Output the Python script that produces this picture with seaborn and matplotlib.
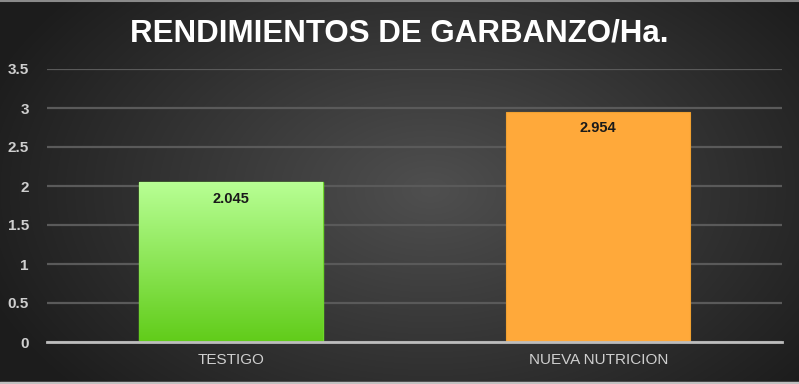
import numpy as np
import pandas as pd
import matplotlib
matplotlib.use('Agg')
import matplotlib.pyplot as plt
import seaborn as sns

categorias = ['TESTIGO', 'NUEVA NUTRICION']
rendimientos = [2.045, 2.954]
y_ticks = [0, 0.5, 1, 1.5, 2, 2.5, 3, 3.5]
y_tick_labels = ['0', '0.5', '1', '1.5', '2', '2.5', '3', '3.5']
titulo = 'RENDIMIENTOS DE GARBANZO/Ha.'

sns.set_style('white')
plt.rcParams['font.family'] = ['Liberation Sans', 'DejaVu Sans']

df = pd.DataFrame({'categoria': categorias, 'valor': rendimientos})

fig = plt.figure(figsize=(7.99, 3.84), dpi=100)

# fondo con degradado radial
bg = fig.add_axes([0, 0, 1, 1], zorder=-1)
yy, xx = np.mgrid[0:384, 0:799]
r = np.sqrt(((xx - 430) / 500.0) ** 2 + ((yy - 190) / 320.0) ** 2)
shade = np.clip(0.31 - 0.21 * r, 0.11, 0.31)
bg.imshow(np.dstack([shade, shade, shade]), aspect='auto', extent=[0, 1, 0, 1])
bg.axhline(0.003, color='#c0c0c0', linewidth=2.5)
bg.axhline(0.998, color='#8a8a8a', linewidth=1.5)
bg.set_xlim(0, 1)
bg.set_ylim(0, 1)
bg.set_axis_off()

ax = fig.add_axes([47 / 799, 1 - 342 / 384, 735 / 799, (342 - 69) / 384])
ax.set_facecolor('none')

sns.barplot(data=df, x='categoria', y='valor', ax=ax, width=0.5,
            palette=['#8ee85a', '#ffa93a'], hue='categoria', legend=False,
            saturation=1, zorder=3)

# degradado verde en la primera barra
p = ax.patches[0]
x0, w, h = p.get_x(), p.get_width(), p.get_height()
grad = np.linspace(0, 1, 256)[:, None]
top = np.array([0.72, 1.0, 0.58])
bot = np.array([0.38, 0.80, 0.10])
img = top[None, None, :] * (1 - grad[..., None]) + bot[None, None, :] * grad[..., None]
img = np.repeat(img, 2, axis=1)
im = ax.imshow(img, extent=[x0, x0 + w, 0, h], aspect='auto', zorder=3.5)
im.set_clip_path(p)
p.set_edgecolor('#6ed82a')
p.set_linewidth(1)
ax.patches[1].set_edgecolor('#f0a030')
ax.patches[1].set_linewidth(0.8)

for i, v in enumerate(rendimientos):
    ax.text(i, v - 0.12, f'{v:.3f}', ha='center', va='top', fontsize=10.5,
            fontweight='bold', color='#1a1a1a', zorder=5)

ax.set_xlim(-0.5, 1.5)
ax.set_ylim(0, 3.5)
ax.set_yticks(y_ticks)
ax.set_yticklabels(y_tick_labels)
ax.yaxis.grid(True, color='#5a5a5a', linewidth=1.6, zorder=0)
ax.set_axisbelow(True)
for s in ['top', 'right', 'left']:
    ax.spines[s].set_visible(False)
ax.spines['bottom'].set_color('#bdbdbd')
ax.spines['bottom'].set_linewidth(2)
ax.spines['bottom'].set_zorder(4)
ax.tick_params(axis='y', length=0, pad=13, labelsize=11, labelcolor='#cfcfcf')
ax.tick_params(axis='x', length=0, pad=8, labelsize=11, labelcolor='#cfcfcf')
for lbl in ax.get_yticklabels():
    lbl.set_fontweight('bold')
ax.set_xlabel('')
ax.set_ylabel('')

fig.text(0.5, 1 - 33 / 384, titulo, ha='center', va='center', fontsize=22.5,
         fontweight='bold', color='white')

fig.savefig('out.png', dpi=100)
